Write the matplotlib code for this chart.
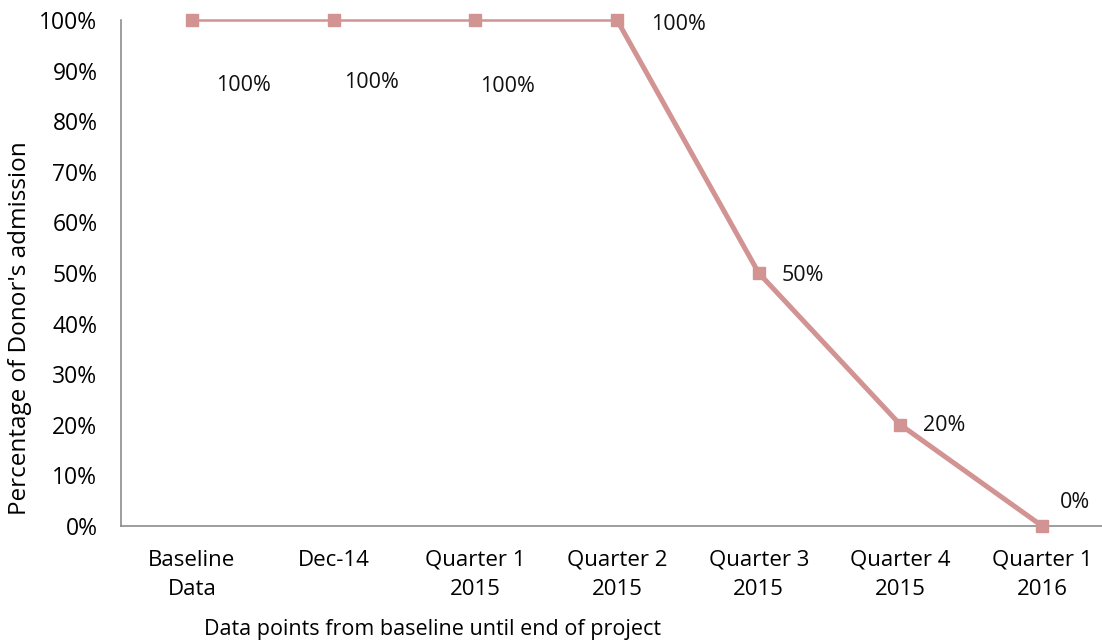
import matplotlib.pyplot as plt
from matplotlib.ticker import PercentFormatter

categories = ["Baseline\nData", "Dec-14", "Quarter 1\n2015", "Quarter 2\n2015",
              "Quarter 3\n2015", "Quarter 4\n2015", "Quarter 1\n2016"]
admission = [100, 100, 100, 100, 50, 20, 0]
labels = ["100%", "100%", "100%", "100%", "50%", "20%", "0%"]

# label offsets in pixels (as placed in the original chart)
offsets = [(52, -66), (38, -63), (32, -67), (61, -5), (44, -3), (44, -1), (33, 23)]

plt.rcParams["font.family"] = ["Open Sans", "DejaVu Sans"]
color = "#D29393"

fig = plt.figure(figsize=(11.02, 6.43), dpi=100)
ax = fig.add_axes([121 / 1102, 1 - 526 / 643, (1113 - 121) / 1102, (526 - 20) / 643])

x = list(range(len(categories)))
ax.plot(x[:4], admission[:4], color=color, lw=1.8, zorder=2, clip_on=False)
ax.plot(x[3:], admission[3:], color=color, lw=3.6, zorder=2, clip_on=False)
ax.plot(x, admission, ls="none", marker="s", ms=9, color=color, zorder=3, clip_on=False)

for xi, yi, lab, off in zip(x, admission, labels, offsets):
    ax.annotate(lab, (xi, yi), xytext=off, textcoords="offset pixels",
                ha="center", va="center", fontsize=15.5, color="#111111")

ax.set_xlim(-0.5, 6.5)
ax.set_ylim(0, 100)
ax.set_yticks(range(0, 101, 10))
ax.yaxis.set_major_formatter(PercentFormatter(decimals=0))
ax.set_xticks(x)
ax.set_xticklabels(categories, fontsize=16, linespacing=1.55)
ax.tick_params(axis="y", labelsize=16.5, length=0, pad=17)
ax.tick_params(axis="x", length=0, pad=17)

for s in ["top", "right"]:
    ax.spines[s].set_visible(False)
for s in ["left", "bottom"]:
    ax.spines[s].set_color("#8c8c8c")
    ax.spines[s].set_linewidth(1.2)

fig.text(20 / 1102, 1 - 328 / 643, "Percentage of Donor's admission",
         rotation=90, ha="center", va="center", fontsize=17.5)
fig.text(433 / 1102, 1 - 630 / 643, "Data points from baseline until end of project",
         ha="center", va="center", fontsize=15.5)

fig.savefig("out.png", dpi=100)
